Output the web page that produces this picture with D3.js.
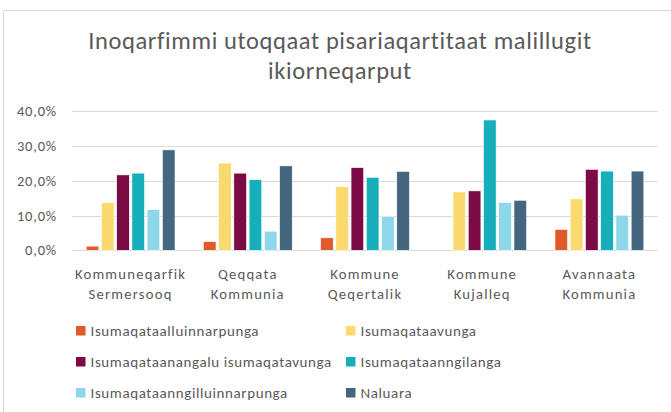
<!DOCTYPE html>
<html>
<head>
    <title>Inoqarfimmi utoqqaat</title>
    <script src="https://d3js.org/d3.v7.min.js"></script>
    <style>
        body { margin: 0; background: #fff; }
        text { font-family: Carlito, Calibri, Lato, sans-serif; fill: #595959; }
    </style>
</head>
<body>
    <svg width="671" height="412"></svg>

    <script>
    const categories = [
        ["Kommuneqarfik", "Sermersooq"],
        ["Qeqqata", "Kommunia"],
        ["Kommune", "Qeqertalik"],
        ["Kommune", "Kujalleq"],
        ["Avannaata", "Kommunia"]
    ];
    const series = [
        "Isumaqataalluinnarpunga",
        "Isumaqataavunga",
        "Isumaqataanangalu isumaqatavunga",
        "Isumaqataanngilanga",
        "Isumaqataanngilluinnarpunga",
        "Naluara"
    ];
    const colors = ["#E15A29", "#FADA6E", "#7C0A45", "#15AEBA", "#8ED6E9", "#44667F"];
    // values per series, one per category (fraction)
    const values = [
        [0.012, 0.025, 0.036, 0.000, 0.060],
        [0.137, 0.251, 0.183, 0.168, 0.148],
        [0.217, 0.222, 0.238, 0.171, 0.233],
        [0.222, 0.203, 0.210, 0.375, 0.228],
        [0.117, 0.055, 0.098, 0.137, 0.101],
        [0.289, 0.243, 0.227, 0.144, 0.228]
    ];
    const yTicks = [0, 0.1, 0.2, 0.3, 0.4];
    const titleLines = ["Inoqarfimmi utoqqaat pisariaqartitaat malillugit", "ikiorneqarput"];

    const svg = d3.select("svg");

    // chart frame (right and bottom edges are outside the picture)
    svg.append("path")
        .attr("d", "M3.5,412 V10.5 H671")
        .attr("fill", "none")
        .attr("stroke", "#d9d9d9");

    // title
    svg.append("g")
        .selectAll("text")
        .data(titleLines)
        .enter().append("text")
        .attr("x", 340)
        .attr("y", (d, i) => 48.5 + i * 30)
        .attr("text-anchor", "middle")
        .style("font-size", "24.5px")
        .style("letter-spacing", "0.6px")
        .text(d => d);

    const y = d3.scaleLinear().domain([0, 0.4]).range([250.3, 111.3]);
    const x0 = d3.scaleBand().domain(d3.range(categories.length)).range([72, 658]);
    const x1 = d3.scaleBand().domain(d3.range(series.length))
        .range([0, x0.bandwidth()]).paddingInner(0.17).paddingOuter(0.93);

    // gridlines
    svg.append("g")
        .selectAll("line")
        .data(yTicks)
        .enter().append("line")
        .attr("x1", 72).attr("x2", 658)
        .attr("y1", d => Math.round(y(d)) + 0.5)
        .attr("y2", d => Math.round(y(d)) + 0.5)
        .attr("stroke", "#d9d9d9")
        .attr("stroke-width", 1.2);

    const fmt = d => d3.format(".1f")(d * 100).replace(".", ",") + "%";
    svg.append("g")
        .selectAll("text")
        .data(yTicks)
        .enter().append("text")
        .attr("x", 57)
        .attr("y", d => y(d) + 5)
        .attr("text-anchor", "end")
        .style("font-size", "14.5px")
        .style("letter-spacing", "0.8px")
        .text(fmt);

    // bars
    const groups = svg.append("g")
        .selectAll("g")
        .data(categories)
        .enter().append("g")
        .attr("transform", (d, i) => `translate(${x0(i)},0)`);

    groups.selectAll("rect")
        .data((d, ci) => series.map((s, si) => ({ si, v: values[si][ci] })))
        .enter().append("rect")
        .filter(d => d.v > 0)
        .attr("x", d => x1(d.si))
        .attr("width", x1.bandwidth())
        .attr("y", d => y(d.v))
        .attr("height", d => y(0) - y(d.v))
        .attr("fill", d => colors[d.si])
        .attr("stroke", "#fff")
        .attr("stroke-width", 0.6);

    // category labels
    groups.each(function(d) {
        const g = d3.select(this);
        d.forEach((line, li) => {
            g.append("text")
                .attr("x", x0.bandwidth() / 2)
                .attr("y", 279 + li * 19.5)
                .attr("text-anchor", "middle")
                .style("font-size", "14.7px")
                .style("letter-spacing", "1.2px")
                .text(line);
        });
    });

    // legend
    const legend = svg.append("g")
        .selectAll("g")
        .data(series)
        .enter().append("g")
        .attr("transform", (d, i) => `translate(${i % 2 === 0 ? 76 : 346},${330.5 + Math.floor(i / 2) * 31})`);

    legend.append("rect")
        .attr("x", 0).attr("y", -4.5).attr("width", 9.5).attr("height", 9.5)
        .attr("fill", (d, i) => colors[i]);

    legend.append("text")
        .attr("x", 14.5).attr("y", 5)
        .style("font-size", "15px")
        .style("letter-spacing", "0.6px")
        .text(d => d);
    </script>
</body>
</html>
